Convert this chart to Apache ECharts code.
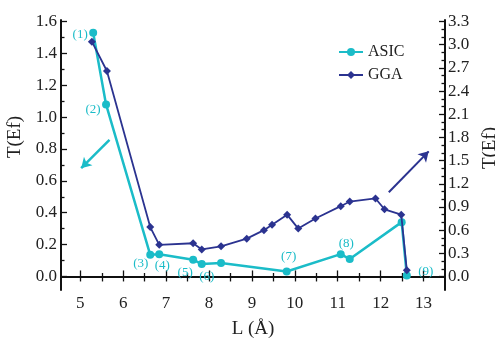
<!DOCTYPE html>
<html><head><meta charset="utf-8">
<script src="https://cdn.jsdelivr.net/npm/echarts@6/dist/echarts.min.js"></script>
<style>html,body{margin:0;padding:0;background:#fff}#c{width:495px;height:338px}</style>
</head><body><div id="c"></div>
<script>
// ---- data ----
const asicL = [5.30, 5.60, 6.63, 6.84, 7.63, 7.83, 8.28, 9.81, 11.07, 11.28, 12.49, 12.61];
const asicT = [1.53, 1.08, 0.136, 0.14, 0.105, 0.078, 0.084, 0.031, 0.14, 0.109, 0.341, 0.006];
const asicTags = ['(1)', '(2)', '(3)', '(4)', '(5)', '(6)', '', '(7)', '(8)', '', '', '(9)'];
const ggaL = [5.27, 5.62, 6.63, 6.84, 7.63, 7.83, 8.28, 8.88, 9.28, 9.47, 9.82, 10.08, 10.48, 11.07, 11.28, 11.88, 12.09, 12.48, 12.61];
const ggaT = [3.04, 2.66, 0.64, 0.41, 0.43, 0.35, 0.39, 0.49, 0.60, 0.67, 0.80, 0.62, 0.75, 0.91, 0.97, 1.01, 0.87, 0.80, 0.08];
const xTicks = [5, 6, 7, 8, 9, 10, 11, 12, 13];
const xMinorTicks = [5.5, 6.5, 7.5, 8.5, 9.5, 10.5, 11.5, 12.5];
const leftTicks = [0, 0.2, 0.4, 0.6, 0.8, 1.0, 1.2, 1.4, 1.6];
const leftMinorTicks = [0.1, 0.3, 0.5, 0.7, 0.9, 1.1, 1.3, 1.5];
const rightTicks = [0, 0.3, 0.6, 0.9, 1.2, 1.5, 1.8, 2.1, 2.4, 2.7, 3.0, 3.3];
const rightMinorTicks = [0.1, 0.2, 0.4, 0.5, 0.7, 0.8, 1.0, 1.1, 1.3, 1.4, 1.6, 1.7, 1.9, 2.0, 2.2, 2.3, 2.5, 2.6, 2.8, 2.9, 3.1, 3.2];
const asicArrow = [[5.68, 0.858], [5.02, 0.68]];
const ggaArrow = [[12.19, 1.09], [13.12, 1.62]];

// ---- style ----
const CYAN = '#1bbcc8', NAVY = '#2b3390';
const FONT = 'Liberation Serif';
const tagOffsets = [[-13, 12.5], [-13, 15.5], [-9.5, 19.5], [3, 21.5], [-8, 23.5], [5, 23.5], [0, 0], [2, -4.5], [5.5, -0.5], [0, 0], [0, 0], [19, 6.5]];
const xr = { min: 4.55, max: 13.5 };
const lr = { min: -0.085, max: 1.61 };
const rr = { min: -0.175, max: 3.32 };

function tickAxis(base, pos, values, len, extra) {
  return Object.assign({
    type: 'value', position: pos, min: base.min, max: base.max,
    axisLine: { show: false }, splitLine: { show: false },
    axisLabel: { show: false },
    axisTick: { show: true, inside: true, length: len, customValues: values, lineStyle: { color: '#111', width: 1.3 } }
  }, extra || {});
}

const chart = echarts.init(document.getElementById('c'), null, { renderer: 'canvas' });
chart.setOption({
  animation: false,
  backgroundColor: '#fff',
  textStyle: { fontFamily: FONT },
  grid: { left: 61, right: 50, top: 20, bottom: 48, containLabel: false, outerBoundsMode: 'none' },
  legend: {
    orient: 'vertical', left: 333, top: 39, itemWidth: 24, itemHeight: 10, itemGap: 7,
    textStyle: { fontFamily: FONT, fontSize: 16, color: '#222' },
    data: ['ASIC', 'GGA']
  },
  xAxis: [
    {
      type: 'value', position: 'bottom', min: xr.min, max: xr.max,
      name: 'L (Å)', nameLocation: 'middle', nameGap: 30,
      nameTextStyle: { fontFamily: FONT, fontSize: 19, color: '#222' },
      axisLine: { show: true, lineStyle: { color: '#111', width: 2 } },
      splitLine: { show: false },
      axisTick: { show: true, inside: true, length: 6, customValues: xTicks, lineStyle: { color: '#111', width: 1.3 } },
      axisLabel: { customValues: xTicks, fontFamily: FONT, fontSize: 17, color: '#222', margin: 5 }
    },
    tickAxis(xr, 'bottom', xMinorTicks, 3.5),
    tickAxis(xr, 'top', xTicks.concat(xMinorTicks), 5, { axisLine: { show: true, lineStyle: { color: '#111', width: 1.5 } } })
  ],
  yAxis: [
    {
      type: 'value', position: 'left', min: lr.min, max: lr.max,
      name: 'T(Ef)', nameLocation: 'middle', nameRotate: 90, nameGap: 36,
      nameTextStyle: { fontFamily: FONT, fontSize: 19, color: '#222', padding: [0, 0, 0, 36] },
      axisLine: { show: true, lineStyle: { color: '#111', width: 2 } },
      splitLine: { show: false },
      axisTick: { show: true, inside: true, length: 6, customValues: leftTicks, lineStyle: { color: '#111', width: 1.3 } },
      axisLabel: { customValues: leftTicks, formatter: v => v.toFixed(1), fontFamily: FONT, fontSize: 17, color: '#222', margin: 4 }
    },
    {
      type: 'value', position: 'right', min: rr.min, max: rr.max,
      name: 'T(Ef)', nameLocation: 'middle', nameRotate: 90, nameGap: 35,
      nameTextStyle: { fontFamily: FONT, fontSize: 19, color: '#222', padding: [0, 0, 0, 14] },
      axisLine: { show: true, lineStyle: { color: '#111', width: 2 } },
      splitLine: { show: false },
      axisTick: { show: true, inside: true, length: 6, customValues: rightTicks, lineStyle: { color: '#111', width: 1.3 } },
      axisLabel: { customValues: rightTicks, formatter: v => v.toFixed(1), fontFamily: FONT, fontSize: 17, color: '#222', margin: 3 }
    },
    tickAxis(lr, 'left', leftMinorTicks, 3.5),
    tickAxis(rr, 'right', rightMinorTicks, 3.5)
  ],
  series: [
    {
      name: 'ASIC', type: 'line', xAxisIndex: 0, yAxisIndex: 0,
      symbol: 'circle', symbolSize: 8, z: 2,
      itemStyle: { color: CYAN }, lineStyle: { color: CYAN, width: 2.5 },
      data: asicL.map((x, i) => ({
        value: [x, asicT[i]],
        label: {
          show: asicTags[i] !== '', formatter: asicTags[i], position: 'top', distance: 0,
          offset: tagOffsets[i], color: CYAN, fontFamily: FONT, fontSize: 13
        }
      })),
      markLine: {
        silent: true, symbol: ['none', 'arrow'], symbolSize: [9, 10],
        label: { show: false },
        lineStyle: { color: CYAN, width: 2.5, type: 'solid' },
        data: [[{ coord: asicArrow[0] }, { coord: asicArrow[1] }]]
      }
    },
    {
      name: 'GGA', type: 'line', xAxisIndex: 0, yAxisIndex: 1,
      symbol: 'diamond', symbolSize: 8, z: 3,
      itemStyle: { color: NAVY }, lineStyle: { color: NAVY, width: 1.8 },
      data: ggaL.map((x, i) => [x, ggaT[i]]),
      markLine: {
        silent: true, symbol: ['none', 'arrow'], symbolSize: [9, 10],
        label: { show: false },
        lineStyle: { color: NAVY, width: 2, type: 'solid' },
        data: [[{ coord: ggaArrow[0] }, { coord: ggaArrow[1] }]]
      }
    }
  ]
});
</script>
</body></html>
